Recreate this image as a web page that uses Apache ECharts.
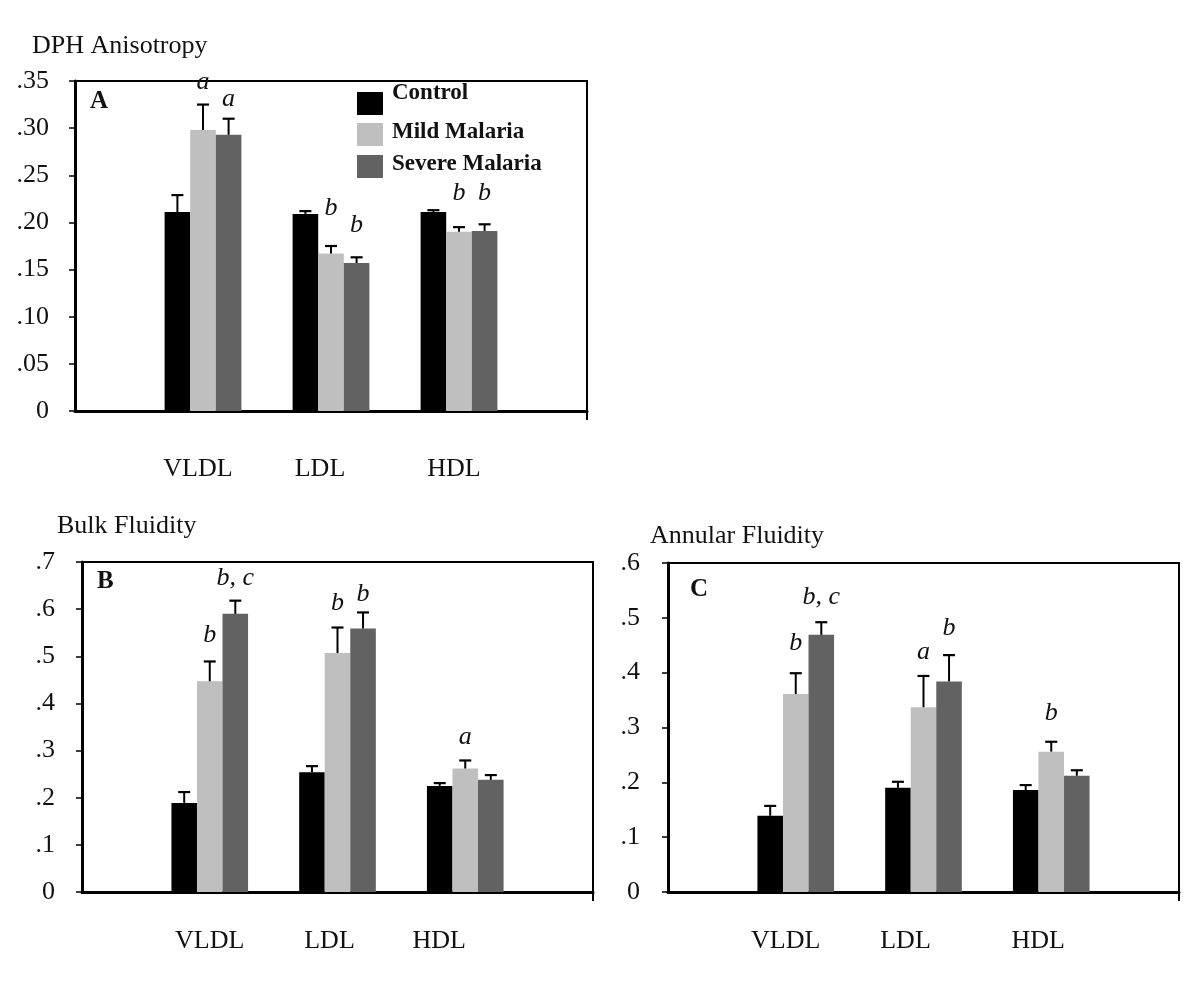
<!DOCTYPE html>
<html>
<head>
<meta charset="utf-8">
<script src="https://cdn.jsdelivr.net/npm/echarts@6/dist/echarts.min.js"></script>
<style>
html,body{margin:0;padding:0;background:#fff;}
#chart{width:1200px;height:1006px;}
</style>
</head>
<body>
<div id="chart"></div>
<script>
// ---------- data ----------
const categories = ['', 'VLDL', 'LDL', 'HDL', ''];
const seriesNames = ['Control', 'Mild Malaria', 'Severe Malaria'];

// Panel A: DPH Anisotropy
const controlA = [0.211, 0.209, 0.211];
const mildA    = [0.298, 0.167, 0.190];
const severeA  = [0.293, 0.157, 0.191];
const controlErrA = [0.018, 0.003, 0.002];
const mildErrA    = [0.027, 0.008, 0.005];
const severeErrA  = [0.017, 0.006, 0.007];
const yTicksA = ['0', '.05', '.10', '.15', '.20', '.25', '.30', '.35'];
// annotations: [category (1..3), series (0..2), level, text]
const annA = [[1, 1, 0.349, 'a'], [1, 2, 0.331, 'a'], [2, 1, 0.215, 'b'], [2, 2, 0.197, 'b'], [3, 1, 0.231, 'b'], [3, 2, 0.231, 'b']];

// Panel B: Bulk Fluidity
const controlB = [0.189, 0.254, 0.225];
const mildB    = [0.447, 0.507, 0.262];
const severeB  = [0.590, 0.559, 0.238];
const controlErrB = [0.023, 0.013, 0.006];
const mildErrB    = [0.042, 0.054, 0.017];
const severeErrB  = [0.028, 0.034, 0.010];
const yTicksB = ['0', '.1', '.2', '.3', '.4', '.5', '.6', '.7'];
const annB = [[1, 1, 0.545, 'b'], [1, 2, 0.666, 'b, c'], [2, 1, 0.613, 'b'], [2, 2, 0.632, 'b'], [3, 1, 0.329, 'a']];

// Panel C: Annular Fluidity
const controlC = [0.139, 0.190, 0.186];
const mildC    = [0.361, 0.337, 0.256];
const severeC  = [0.469, 0.384, 0.212];
const controlErrC = [0.018, 0.011, 0.009];
const mildErrC    = [0.038, 0.057, 0.018];
const severeErrC  = [0.023, 0.048, 0.010];
const yTicksC = ['0', '.1', '.2', '.3', '.4', '.5', '.6'];
const annC = [[1, 1, 0.454, 'b'], [1, 2, 0.538, 'b, c'], [2, 1, 0.438, 'a'], [2, 2, 0.481, 'b'], [3, 1, 0.326, 'b']];

// ---------- styles ----------
const colors = ['#000000', '#bfbfbf', '#626262'];
const FONT = '"Liberation Serif", "Times New Roman", serif';
const TXT = '#111';
const CAT_GAP = 0.40;

const chart = echarts.init(document.getElementById('chart'), null, {renderer: 'canvas'});

function pad(arr) { return [null].concat(arr).concat([null]); }

function errRender(k) {
  return function (params, api) {
    const c = api.value(0), v = api.value(1), e = api.value(2);
    const top = api.coord([c, v]);
    const cap = api.coord([c, v + e]);
    const band = api.size([1, 0])[0];
    const bw = band * (1 - CAT_GAP) / 3;
    const x = top[0] + (k - 1) * bw;
    return {
      type: 'group',
      children: [
        {type: 'line', shape: {x1: x, y1: top[1], x2: x, y2: cap[1]}, style: {stroke: '#000', lineWidth: 2}},
        {type: 'line', shape: {x1: x - 6, y1: cap[1], x2: x + 6, y2: cap[1]}, style: {stroke: '#000', lineWidth: 2.2}}
      ]
    };
  };
}

function annRender(list) {
  return function (params, api) {
    const item = list[params.dataIndex];
    const p = api.coord([item[0], item[2]]);
    const band = api.size([1, 0])[0];
    const bw = band * (1 - CAT_GAP) / 3;
    const x = p[0] + (item[1] - 1) * bw;
    return {
      type: 'text',
      x: x, y: p[1],
      style: {text: item[3], font: 'italic 26px ' + FONT, fill: TXT, align: 'center', verticalAlign: 'middle'}
    };
  };
}

// per-label horizontal nudges of the category names (px, negative = left)
function catLabel(shifts) {
  const rich = {};
  shifts.forEach(function (s, i) {
    rich['c' + i] = {fontFamily: FONT, fontSize: 26, color: TXT,
                     padding: s < 0 ? [0, -2 * s, 0, 0] : [0, 0, 0, 2 * s]};
  });
  return {
    rich: rich,
    formatter: function (v, idx) { return v ? '{c' + idx + '|' + v + '}' : ''; }
  };
}

const panels = [
  {ctrl: controlA, mild: mildA, sev: severeA, eC: controlErrA, eM: mildErrA, eS: severeErrA, ticks: yTicksA, ann: annA,
   max: 0.35, interval: 0.05, grid: {left: 75, top: 81, width: 512, height: 330}, yMargin: 26, xMargin: 45,
   shifts: [0, -5, -11, -5, 0]},
  {ctrl: controlB, mild: mildB, sev: severeB, eC: controlErrB, eM: mildErrB, eS: severeErrB, ticks: yTicksB, ann: annB,
   max: 0.7, interval: 0.1, grid: {left: 82, top: 562, width: 511, height: 330}, yMargin: 27, xMargin: 36,
   shifts: [0, 0, -8, -26, 0]},
  {ctrl: controlC, mild: mildC, sev: severeC, eC: controlErrC, eM: mildErrC, eS: severeErrC, ticks: yTicksC, ann: annC,
   max: 0.6, interval: 0.1, grid: {left: 668, top: 563, width: 511, height: 329}, yMargin: 28, xMargin: 36,
   shifts: [0, -10, -18, -13, 0]}
];

const grids = [], xAxes = [], yAxes = [], series = [];
panels.forEach(function (p, i) {
  grids.push(Object.assign({show: true, borderColor: '#000', borderWidth: 2, backgroundColor: 'transparent'}, p.grid));
  xAxes.push({
    type: 'category', gridIndex: i, data: categories, boundaryGap: false,
    axisLine: {lineStyle: {color: '#000', width: 3}},
    axisTick: {show: true, length: 9, lineStyle: {color: '#000', width: 2},
               interval: function (idx) { return idx === categories.length - 1; }},
    axisLabel: Object.assign({margin: p.xMargin, fontFamily: FONT, fontSize: 26, color: TXT, interval: 0}, catLabel(p.shifts)),
    splitLine: {show: false}
  });
  yAxes.push({
    type: 'value', gridIndex: i, min: 0, max: p.max, interval: p.interval,
    axisLine: {show: true, lineStyle: {color: '#000', width: 3}},
    axisTick: {show: true, length: 6, lineStyle: {color: '#000', width: 1.5}},
    axisLabel: {margin: p.yMargin, fontFamily: FONT, fontSize: 26, color: TXT, padding: [0, 0, 20, 0],
                formatter: (function (ticks, step) { return function (v) { return ticks[Math.round(v / step)]; }; })(p.ticks, p.interval)},
    splitLine: {show: false}
  });
  const vals = [p.ctrl, p.mild, p.sev];
  const errs = [p.eC, p.eM, p.eS];
  vals.forEach(function (arr, k) {
    series.push({
      name: seriesNames[k], type: 'bar', xAxisIndex: i, yAxisIndex: i,
      data: pad(arr), barGap: '0%', barCategoryGap: (CAT_GAP * 100) + '%',
      itemStyle: {color: colors[k]}, z: 2
    });
  });
  vals.forEach(function (arr, k) {
    series.push({
      type: 'custom', xAxisIndex: i, yAxisIndex: i, renderItem: errRender(k), z: 3,
      data: arr.map(function (v, j) { return [j + 1, v, errs[k][j]]; })
    });
  });
  series.push({
    type: 'custom', xAxisIndex: i, yAxisIndex: i, renderItem: annRender(p.ann), z: 4,
    data: p.ann.map(function (a) { return [a[0], a[2]]; })
  });
});

const titleStyle = {fontFamily: FONT, fontSize: 26, fontWeight: 'normal', color: TXT};
const letterStyle = {fontFamily: FONT, fontSize: 25, fontWeight: 'bold', color: TXT};

// one legend block per series so each label can sit at its own height
const legendTops = [82, 121, 153];
const legendLift = [20, 4, 4];   // height of an empty second line that lifts the label
const legends = seriesNames.map(function (n, k) {
  return {
    data: [n], orient: 'vertical', left: 357, top: legendTops[k], padding: 0,
    icon: 'rect', itemWidth: 26, itemHeight: 23,
    formatter: function (name) { return '{t|' + name + '}\n{s| }'; },
    textStyle: {
      padding: [0, 0, 0, 4],
      rich: {
        t: {fontFamily: FONT, fontSize: 23, fontWeight: 'bold', color: TXT, lineHeight: 24},
        s: {fontSize: 2, lineHeight: legendLift[k]}
      }
    },
    selectedMode: false
  };
});

const option = {
  animation: false,
  backgroundColor: '#fff',
  title: [
    {text: 'DPH Anisotropy', left: 32, top: 33, padding: 0, textStyle: titleStyle},
    {text: 'Bulk Fluidity', left: 57, top: 513, padding: 0, textStyle: titleStyle},
    {text: 'Annular Fluidity', left: 650, top: 523, padding: 0, textStyle: titleStyle},
    {text: 'A', left: 90, top: 89, padding: 0, textStyle: letterStyle},
    {text: 'B', left: 97, top: 569, padding: 0, textStyle: letterStyle},
    {text: 'C', left: 690, top: 577, padding: 0, textStyle: letterStyle}
  ],
  legend: legends,
  grid: grids,
  xAxis: xAxes,
  yAxis: yAxes,
  series: series
};
chart.setOption(option);
</script>
</body>
</html>
